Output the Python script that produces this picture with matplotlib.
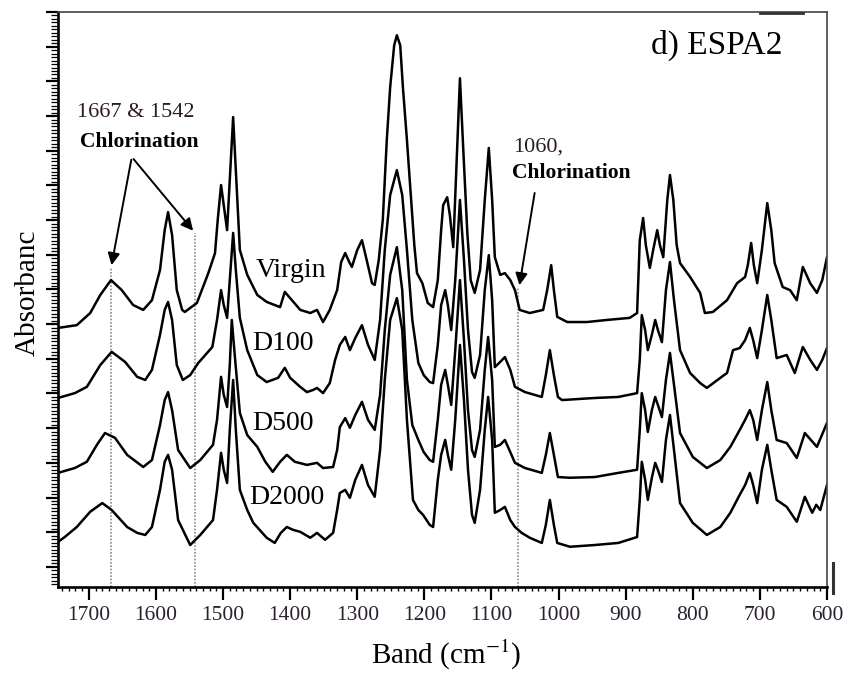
import numpy as np
import matplotlib
matplotlib.use("Agg")
import matplotlib.pyplot as plt
from matplotlib.ticker import MultipleLocator
from matplotlib.lines import Line2D

plt.rcParams['font.family'] = ['Liberation Serif', 'DejaVu Serif']
plt.rcParams['mathtext.fontset'] = 'stix'

# spectra (wavenumber in cm-1, stacked absorbance in a.u.)
wn_virgin = [1746, 1718, 1698, 1683, 1667, 1651, 1634, 1619, 1606, 1594, 1587, 1582, 1576, 1569,
             1561, 1557, 1539, 1522, 1512, 1508, 1503, 1499, 1494, 1490, 1485, 1481, 1475, 1464,
             1449, 1435, 1415, 1408, 1400, 1385, 1370, 1360, 1351, 1341, 1330, 1324, 1318, 1312,
             1308, 1300, 1293, 1286, 1278, 1274, 1268, 1262, 1256, 1251, 1245, 1241, 1236, 1232,
             1226, 1221, 1215, 1211, 1203, 1195, 1187, 1180, 1175, 1172, 1166, 1162, 1157, 1153,
             1147, 1142, 1136, 1131, 1125, 1117, 1110, 1104, 1099, 1095, 1087, 1080, 1072, 1065,
             1058, 1043, 1023, 1017, 1011, 1007, 1002, 987, 958, 928, 894, 883, 879, 874, 870, 864,
             859, 853, 849, 844, 838, 834, 829, 824, 819, 804, 789, 782, 770, 749, 734, 722, 718,
             713, 709, 704, 697, 689, 683, 678, 666, 655, 645, 636, 625, 615, 607, 600]
ab_virgin = [6.89, 6.97, 7.32, 7.84, 8.27, 7.98, 7.55, 7.41, 7.69, 8.56, 9.71, 10.23, 9.57, 7.98,
             7.41, 7.35, 7.61, 8.47, 9.05, 10.00, 11.01, 10.43, 9.71, 11.15, 12.97, 11.44, 9.14, 8.42,
             7.84, 7.64, 7.49, 7.93, 7.75, 7.41, 7.32, 7.41, 7.06, 7.41, 7.98, 8.79, 9.05, 8.79,
             8.65, 9.14, 9.42, 8.85, 8.18, 8.13, 8.85, 10.00, 12.31, 13.83, 15.04, 15.33, 15.04, 13.83,
             12.31, 10.95, 9.28, 8.47, 8.18, 7.61, 7.49, 8.27, 9.71, 10.43, 10.66, 10.14, 9.22, 11.15,
             14.09, 12.02, 9.63, 8.27, 7.90, 8.56, 10.58, 12.08, 10.58, 8.93, 8.42, 8.47, 8.27, 7.98,
             7.41, 7.32, 7.41, 7.98, 8.70, 7.98, 7.21, 7.06, 7.06, 7.12, 7.18, 7.32, 9.42, 10.06, 9.28, 8.62,
             9.14, 9.71, 9.28, 8.93, 10.58, 11.30, 10.58, 9.28, 8.76, 8.36, 7.90, 7.32, 7.35, 7.69, 8.18, 8.36, 8.70,
             9.34, 8.70, 8.18, 9.14, 10.49, 9.71, 8.76, 8.07, 7.98, 7.69, 8.65, 8.18, 7.90, 8.27, 8.93]

wn_d100 = [1746, 1721, 1703, 1683, 1666, 1646, 1628, 1616, 1606, 1594, 1587, 1582, 1576, 1569,
           1560, 1549, 1537, 1516, 1509, 1503, 1499, 1494, 1490, 1485, 1481, 1475, 1464, 1449,
           1435, 1418, 1408, 1400, 1385, 1375, 1366, 1360, 1351, 1341, 1333, 1326, 1318, 1311,
           1303, 1293, 1284, 1274, 1266, 1259, 1251, 1241, 1233, 1226, 1218, 1209, 1201, 1192,
           1187, 1180, 1175, 1169, 1165, 1160, 1154, 1147, 1141, 1135, 1129, 1125, 1117, 1110,
           1104, 1099, 1095, 1087, 1080, 1072, 1065, 1050, 1025, 1019, 1013, 1007, 1001, 995,
           946, 911, 883, 879, 876, 871, 867, 861, 856, 852, 846, 840, 834, 828, 819, 804, 789,
           779, 759, 749, 740, 730, 722, 715, 710, 704, 697, 689, 683, 675, 660, 648, 636, 625,
           615, 607, 600]
ab_d100 = [4.87, 5.01, 5.19, 5.82, 6.20, 5.91, 5.48, 5.39, 5.68, 6.69, 7.41, 7.64, 7.12, 5.82,
           5.39, 5.53, 5.88, 6.34, 7.12, 7.98, 7.55, 7.18, 8.27, 9.63, 8.56, 7.18, 6.25, 5.53,
           5.33, 5.45, 5.74, 5.45, 5.19, 5.04, 5.10, 5.16, 5.01, 5.30, 5.97, 6.40, 6.63, 6.25,
           6.60, 6.97, 6.40, 5.97, 7.12, 9.14, 10.72, 11.44, 10.72, 9.14, 7.12, 5.88, 5.53, 5.33,
           5.30, 6.40, 7.55, 7.98, 7.55, 6.83, 8.27, 10.58, 8.85, 6.83, 5.62, 5.45, 6.11, 7.98,
           8.99, 7.69, 5.76, 5.91, 6.05, 5.68, 5.19, 5.04, 4.90, 5.53, 6.25, 5.53, 4.90, 4.81,
           4.87, 4.90, 5.01, 5.97, 7.26, 6.83, 6.25, 6.69, 7.12, 6.83, 6.48, 7.98, 8.79, 7.69, 6.25, 5.59, 5.30,
           5.16, 5.45, 5.59, 6.25, 6.31, 6.54, 6.89, 6.54, 6.02, 6.83, 7.84, 7.12, 6.02, 6.11, 5.59, 6.34, 5.97,
           5.68, 5.97, 6.31]

wn_d500 = [1746, 1721, 1703, 1688, 1676, 1661, 1643, 1619, 1606, 1594, 1587, 1582, 1576, 1567,
           1549, 1534, 1515, 1509, 1503, 1499, 1494, 1490, 1487, 1482, 1475, 1464, 1449, 1437,
           1426, 1415, 1405, 1393, 1375, 1360, 1351, 1336, 1330, 1326, 1318, 1311, 1303, 1293,
           1284, 1274, 1266, 1259, 1251, 1241, 1233, 1226, 1218, 1209, 1201, 1192, 1187, 1180,
           1175, 1169, 1165, 1160, 1154, 1147, 1141, 1135, 1129, 1125, 1117, 1110, 1105, 1099,
           1095, 1087, 1080, 1072, 1065, 1050, 1025, 1019, 1013, 1007, 1001, 983, 946, 911, 883,
           879, 876, 871, 867, 861, 856, 852, 846, 840, 834, 828, 819, 800, 779, 759, 744, 730,
           722, 715, 710, 704, 697, 689, 683, 675, 660, 645, 633, 624, 615, 600]
ab_d500 = [2.71, 2.85, 3.03, 3.52, 3.86, 3.72, 3.23, 2.88, 3.08, 4.09, 4.81, 5.04, 4.52, 3.37,
           2.85, 3.08, 3.52, 4.24, 5.48, 4.96, 4.61, 5.82, 7.12, 5.97, 4.44, 3.80, 3.46, 3.03,
           2.74, 3.03, 3.23, 3.03, 2.94, 3.00, 2.85, 2.88, 3.37, 4.03, 4.29, 4.01, 4.38, 4.76,
           4.24, 3.95, 4.96, 6.83, 8.42, 9.22, 7.98, 5.39, 4.09, 3.66, 3.31, 3.08, 3.03, 4.24,
           5.25, 5.68, 5.25, 4.67, 6.25, 8.27, 6.54, 4.52, 3.37, 3.17, 3.95, 5.68, 6.63, 5.39,
           3.46, 3.52, 3.66, 3.31, 3.00, 2.85, 2.71, 3.23, 3.86, 3.23, 2.59, 2.57, 2.59, 2.71, 2.80,
           3.95, 5.01, 4.52, 3.89, 4.52, 4.90, 4.67, 4.32, 5.39, 6.17, 5.25, 3.86, 3.17, 2.85, 3.08, 3.46, 3.95,
           4.24, 4.52, 4.24, 3.66, 4.52, 5.33, 4.52, 3.66, 3.57, 3.14, 3.86, 3.66, 3.46, 4.15]

wn_d2000 = [1746, 1736, 1718, 1698, 1680, 1666, 1643, 1628, 1616, 1606, 1594, 1587, 1582, 1576,
            1567, 1549, 1534, 1515, 1509, 1503, 1499, 1494, 1490, 1485, 1481, 1475, 1464, 1455,
            1435, 1423, 1414, 1405, 1396, 1385, 1370, 1360, 1348, 1336, 1330, 1326, 1318, 1311,
            1303, 1293, 1284, 1274, 1266, 1259, 1251, 1241, 1233, 1226, 1217, 1209, 1202, 1192,
            1187, 1180, 1175, 1169, 1165, 1160, 1154, 1147, 1141, 1135, 1129, 1125, 1117, 1110,
            1105, 1099, 1095, 1087, 1080, 1072, 1065, 1055, 1043, 1025, 1019, 1013, 1007, 1002,
            983, 946, 911, 883, 879, 876, 871, 867, 861, 856, 852, 846, 840, 834, 828, 819, 800,
            779, 759, 744, 730, 722, 715, 710, 704, 697, 689, 683, 675, 660, 645, 633, 622, 616,
            610, 600]
ab_d2000 = [0.72, 0.86, 1.15, 1.59, 1.84, 1.64, 1.15, 0.98, 0.92, 1.15, 2.22, 3.03, 3.23, 2.80,
            1.35, 0.63, 0.92, 1.35, 2.22, 3.29, 2.80, 2.42, 3.95, 5.39, 3.95, 2.22, 1.64, 1.27,
            0.84, 0.69, 0.98, 1.15, 1.07, 1.01, 0.84, 0.98, 0.78, 0.98, 1.64, 2.13, 2.22, 1.99,
            2.51, 2.94, 2.36, 2.02, 3.37, 5.39, 7.12, 7.75, 6.83, 4.24, 1.93, 1.64, 1.50, 1.21,
            1.15, 2.51, 3.23, 3.66, 3.23, 2.80, 4.24, 6.40, 4.81, 2.80, 1.50, 1.27, 2.22, 3.95,
            4.90, 3.66, 1.56, 1.64, 1.73, 1.35, 1.15, 0.98, 0.84, 0.69, 1.21, 1.93, 1.21, 0.69,
            0.58, 0.63, 0.69, 0.86, 1.93, 3.03, 2.51, 1.93, 2.57, 3.00, 2.80, 2.45, 3.66, 4.38, 3.37, 1.84, 1.27,
            0.92, 1.15, 1.56, 2.08, 2.36, 2.71, 2.36, 1.84, 2.80, 3.52, 2.80, 1.93, 1.73, 1.30, 2.02, 1.56, 1.79,
            1.64, 2.36]

sample_names = ['Virgin', 'D100', 'D500', 'D2000']
label_pos = [(1399, 8.56), (1411, 6.43), (1411, 4.12), (1405, 1.99)]
chlorination_bands = [1667, 1542, 1060]
band_line_top = [8.62, 9.63, 8.04]

fig = plt.figure(figsize=(8.53, 6.75), dpi=100)
ax = fig.add_axes([0.068, 0.1304, 0.9015, 0.8518])

for wn, ab in [(wn_virgin, ab_virgin), (wn_d100, ab_d100), (wn_d500, ab_d500), (wn_d2000, ab_d2000)]:
    ax.plot(wn, ab, color='black', lw=1.8, solid_joinstyle='round', solid_capstyle='round')

ymin, ymax = -0.58, 16.0
for band, top in zip(chlorination_bands, band_line_top):
    ax.plot([band, band], [ymin, top], color='#8a8a8a', lw=1.2, ls=(0, (1, 1)), zorder=1)

for name, (x, y) in zip(sample_names, label_pos):
    ax.text(x, y, name, fontsize=20, ha='center', va='center')

# annotations
ax.text(1630, 13.11, '1667 & 1542', fontsize=16, ha='center', va='center', color='#2a1a2a')
ax.text(1625, 12.25, 'Chlorination', fontsize=15.5, ha='center', va='center', fontweight='bold')
for tip in [(1667, 8.62), (1542, 9.63)]:
    ax.annotate('', xy=tip, xytext=(1636, 11.82),
                arrowprops=dict(arrowstyle='-|>', color='black', lw=1.4, mutation_scale=18))
ax.text(1068, 12.10, '1060,', fontsize=16, ha='left', va='center', color='#2a1a2a')
ax.text(1069, 11.36, 'Chlorination', fontsize=15.5, ha='left', va='center', fontweight='bold')
ax.annotate('', xy=(1059, 8.04), xytext=(1035, 10.86),
            arrowprops=dict(arrowstyle='-|>', color='black', lw=1.4, mutation_scale=18))
ax.text(765, 15.04, 'd) ESPA2', fontsize=24, ha='center', va='center')

ax.set_xlim(1746, 600)
ax.set_ylim(ymin, ymax)
ax.xaxis.set_major_locator(MultipleLocator(100))
ax.xaxis.set_minor_locator(MultipleLocator(10))
ax.yaxis.set_major_locator(MultipleLocator(1))
ax.yaxis.set_minor_locator(MultipleLocator(0.1))
ax.set_yticklabels([])
ax.tick_params(axis='x', which='major', direction='out', length=9, width=1.6, labelsize=15.5, pad=5)
ax.tick_params(axis='x', which='minor', direction='out', length=3, width=1.0)
ax.tick_params(axis='y', which='major', direction='out', length=9, width=1.6, left=True)
ax.tick_params(axis='y', which='minor', direction='out', length=5, width=0.9)
for lab in ax.get_xticklabels():
    lab.set_color('#2a2030')

for side in ['left', 'bottom']:
    ax.spines[side].set_linewidth(1.9)
for side in ['top', 'right']:
    ax.spines[side].set_linewidth(1.2)
    ax.spines[side].set_color('#444444')

fig.text(0.032, 0.566, 'Absorbanc', rotation=90, fontsize=21, ha='center', va='center')
fig.text(0.523, 0.030, 'Band (cm$^{-1}$)', fontsize=21, ha='center', va='center')
# small scanning marks seen at the frame edges
fig.add_artist(Line2D([833 / 853, 833 / 853], [1 - 593 / 675, 1 - 563 / 675],
                      color='#333333', lw=2.2, transform=fig.transFigure))
fig.add_artist(Line2D([760 / 853, 803 / 853], [1 - 13 / 675, 1 - 13 / 675],
                      color='#333333', lw=2.0, transform=fig.transFigure))

fig.savefig('out.png', dpi=100)
